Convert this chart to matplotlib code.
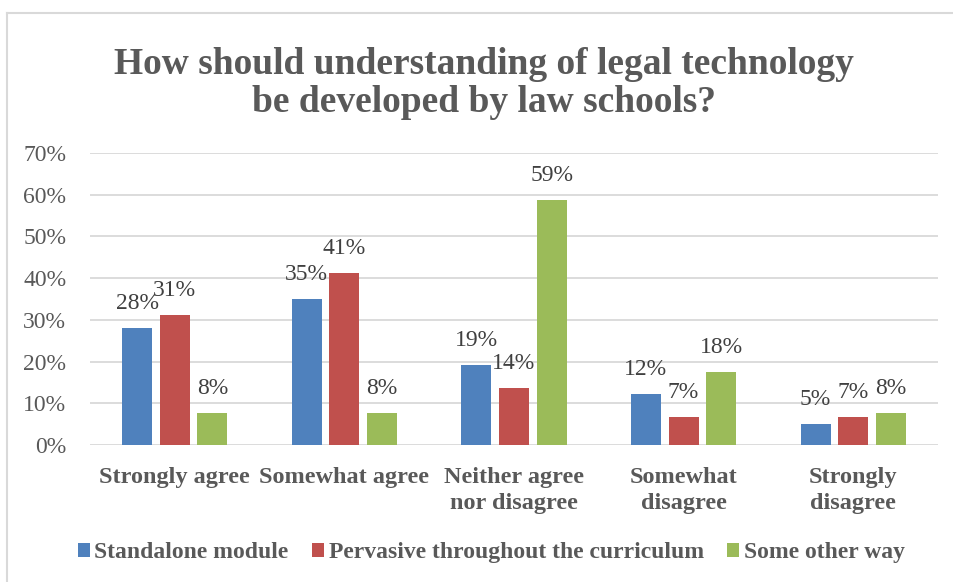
import matplotlib
matplotlib.use("Agg")
import matplotlib.pyplot as plt
from matplotlib.patches import Patch
from matplotlib.lines import Line2D
import numpy as np

categories = ["Strongly agree", "Somewhat agree", "Neither agree\nnor disagree",
              "Somewhat\ndisagree", "Strongly\ndisagree"]
series_names = ["Standalone module", "Pervasive throughout the curriculum", "Some other way"]
standalone = [28.0, 35.1, 19.2, 12.2, 5.1]
pervasive = [31.1, 41.3, 13.6, 6.7, 6.7]
other_way = [7.7, 7.7, 58.8, 17.6, 7.7]
colors = ["#4F81BD", "#C0504D", "#9BBB59"]

plt.rcParams['font.family'] = ['Liberation Serif', 'DejaVu Serif']
grey = "#595959"

fig = plt.figure(figsize=(9.54, 5.82), dpi=100)
ax = fig.add_axes([0.0943, 0.2354, 0.8889, 0.5017])

x = np.arange(len(categories))
offset = 0.222
width = 0.177
for i, (vals, col) in enumerate(zip([standalone, pervasive, other_way], colors)):
    pos = x + (i - 1) * offset
    ax.bar(pos, np.array(vals) / 100, width, color=col, zorder=3)
    for px, v in zip(pos, vals):
        ax.annotate(f"{v:.0f}%", (px, v / 100), xytext=(0, 17.5),
                    textcoords="offset points", ha="center", va="center",
                    fontsize=17, color="#404040")

ax.set_xlim(-0.5, len(categories) - 0.5)
ax.set_ylim(0, 0.7)
yt = np.arange(0, 0.71, 0.1)
ax.set_yticks(yt)
ax.set_yticklabels([f"{t*100:.0f}%" for t in yt], fontsize=17, color=grey)
ax.set_xticks(x)
ax.set_xticklabels(categories, fontsize=17.5, fontweight="bold", color=grey,
                   linespacing=1.3)
ax.tick_params(axis="y", length=0, pad=17)
ax.tick_params(axis="x", length=0, pad=16)
ax.grid(axis="y", color="#D9D9D9", linewidth=1.3, zorder=0)
for s in ax.spines.values():
    s.set_visible(False)

fig.text(0.507, 0.857, "How should understanding of legal technology\nbe developed by law schools?",
         ha="center", va="center", fontsize=27, fontweight="bold", color=grey,
         linespacing=1.12)

handles = [Patch(facecolor=c) for c in colors]
fig.legend(handles, series_names, loc="center", bbox_to_anchor=(0.515, 0.05),
           ncol=3, frameon=False, handlelength=0.5, handleheight=0.5,
           handletextpad=0.2, columnspacing=1.0,
           prop={"size": 17, "weight": "bold"}, labelcolor=grey)

# chart frame (top and left edges visible)
fig.add_artist(Line2D([7/954, 7/954], [0, 1 - 13/582], transform=fig.transFigure,
                      color="#D9D9D9", linewidth=1.5))
fig.add_artist(Line2D([7/954, 1], [1 - 13/582, 1 - 13/582], transform=fig.transFigure,
                      color="#D9D9D9", linewidth=1.5))

fig.savefig("out.png", dpi=100)
